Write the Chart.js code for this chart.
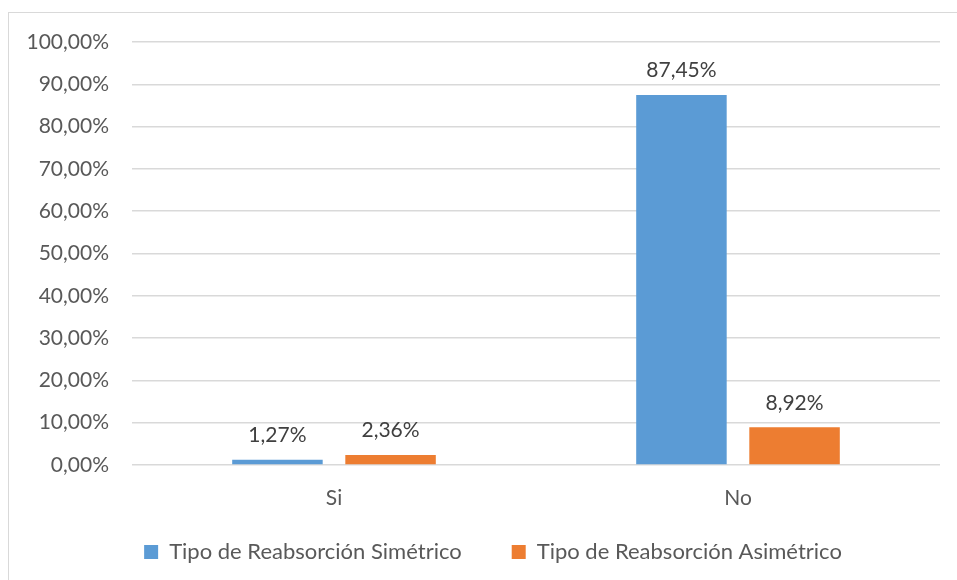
<!DOCTYPE html>
<html>
<head>
<meta charset="utf-8">
<script src="https://cdn.jsdelivr.net/npm/chart.js@4"></script>
<style>
  body { margin: 0; background: #fff; overflow: hidden; }
  #marco { position: absolute; left: 8px; top: 12px; width: 1000px; height: 700px; border: 1.5px solid #d9d9d9; }
  #wrap { position: absolute; left: 0; top: 0; width: 957px; height: 580px; }
</style>
</head>
<body>
<div id="marco"></div>
<div id="wrap"><canvas id="grafico"></canvas></div>
<script>
const categorias = ["Si", "No"];
const simetrico = [1.27, 87.45];
const asimetrico = [2.36, 8.92];
const nombresSeries = ["Tipo de Reabsorción Simétrico", "Tipo de Reabsorción Asimétrico"];

const fuente = "Lato, 'Open Sans', sans-serif";
const gris = "#595959";

function formato(v) {
  return v.toFixed(2).replace(".", ",") + "%";
}

// Etiquetas de datos encima de cada barra
const etiquetas = {
  id: "etiquetas",
  afterDatasetsDraw(chart) {
    const ctx = chart.ctx;
    ctx.save();
    ctx.font = "21px " + fuente;
    ctx.fillStyle = "#404040";
    ctx.textAlign = "center";
    ctx.textBaseline = "bottom";
    chart.data.datasets.forEach((ds, i) => {
      chart.getDatasetMeta(i).data.forEach((el, j) => {
        ctx.fillText(formato(ds.data[j]), el.x, el.y - 14);
      });
    });
    ctx.restore();
  },
};

// Ajustes finos: leyenda algo a la derecha y arriba, eje x sin recorte
const ajustes = {
  id: "ajustes",
  afterLayout(chart) {
    const lg = chart.legend;
    if (lg) {
      lg.left += 23;
      lg.right += 23;
      lg.top -= 7;
      lg.bottom -= 7;
    }
    chart.scales.x.bottom += 40;
  },
};

new Chart(document.getElementById("grafico"), {
  type: "bar",
  data: {
    labels: categorias,
    datasets: [
      {
        label: nombresSeries[0],
        data: simetrico,
        backgroundColor: "#5b9bd5",
        categoryPercentage: 0.56,
        barPercentage: 0.8,
      },
      {
        label: nombresSeries[1],
        data: asimetrico,
        backgroundColor: "#ed7d31",
        categoryPercentage: 0.56,
        barPercentage: 0.8,
      },
    ],
  },
  options: {
    responsive: true,
    maintainAspectRatio: false,
    animation: false,
    layout: { padding: { top: 42, right: 17, bottom: 0, left: 0 } },
    plugins: {
      legend: {
        position: "bottom",
        labels: {
          color: gris,
          font: { family: fuente, size: 22 },
          boxWidth: 14,
          boxHeight: 14,
          padding: 50,
        },
      },
      tooltip: { enabled: false },
    },
    scales: {
      x: {
        grid: { display: false },
        border: { display: false },
        ticks: { color: gris, font: { family: fuente, size: 21 }, padding: 13 },
        afterFit(scale) { scale.height = 33; },
      },
      y: {
        min: 0,
        max: 100,
        ticks: {
          stepSize: 10,
          color: gris,
          font: { family: fuente, size: 21 },
          padding: 23,
          callback: (v) => formato(v),
        },
        grid: { color: "#d9d9d9", lineWidth: 1.5, drawTicks: false },
        border: { display: false },
        afterFit(scale) { scale.width = 132; },
      },
    },
  },
  plugins: [etiquetas, ajustes],
});
</script>
</body>
</html>
